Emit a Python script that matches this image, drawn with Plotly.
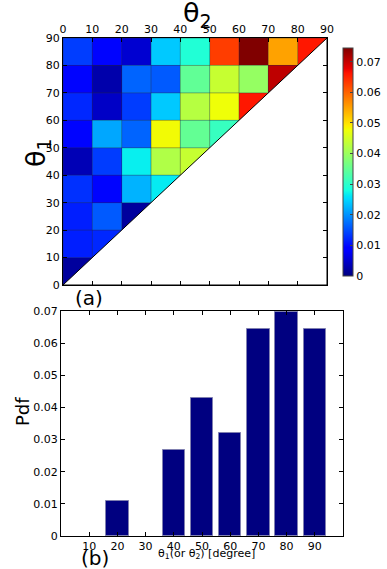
import numpy as np
import plotly.graph_objects as go

# bin edges / centres (degrees)
edges = [0, 10, 20, 30, 40, 50, 60, 70, 80, 90]
centres = [5, 15, 25, 35, 45, 55, 65, 75, 85]

# joint pdf of (theta1, theta2); row = theta1 bin (0-10 first), col = theta2 bin
pdf_rows = [
    [0.0019],
    [0.0115, 0.0122],
    [0.0115, 0.0159, 0.0019],
    [0.0128, 0.0095, 0.0224, 0.0265],
    [0.0035, 0.0137, 0.0268, 0.0420, 0.0440],
    [0.0095, 0.0215, 0.0166, 0.0480, 0.0350, 0.0310],
    [0.0122, 0.0045, 0.0137, 0.0240, 0.0425, 0.0477, 0.0660],
    [0.0095, 0.0028, 0.0166, 0.0159, 0.0348, 0.0440, 0.0395, 0.0705],
    [0.0138, 0.0095, 0.0052, 0.0240, 0.0290, 0.0630, 0.0745, 0.0550, 0.0660],
]

# marginal pdf (panel b)
bar_x = [10, 20, 30, 40, 50, 60, 70, 80, 90]
bar_pdf = [0.0, 0.0108, 0.0, 0.0268, 0.0428, 0.0322, 0.0643, 0.0698, 0.0643]

pdf_ticks = [0, 0.01, 0.02, 0.03, 0.04, 0.05, 0.06, 0.07]
pdf_labels = ["0", "0.01", "0.02", "0.03", "0.04", "0.05", "0.06", "0.07"]


def mpl_jet():
    # matplotlib's jet segment data, sampled at its breakpoints
    red = [(0, 0), (0.35, 0), (0.66, 1), (0.89, 1), (1, 0.5)]
    green = [(0, 0), (0.125, 0), (0.375, 1), (0.64, 1), (0.91, 0), (1, 0)]
    blue = [(0, 0.5), (0.11, 1), (0.34, 1), (0.65, 0), (1, 0)]
    stops = sorted({p for seg in (red, green, blue) for p, _ in seg})
    scale = []
    for s in stops:
        rgb = [np.interp(s, [p for p, _ in seg], [v for _, v in seg]) for seg in (red, green, blue)]
        scale.append([s, "rgb(%d,%d,%d)" % tuple(int(round(255 * c)) for c in rgb)])
    return scale


z = np.full((9, 9), np.nan)
for r, row in enumerate(pdf_rows):
    z[r, :len(row)] = row

font = "DejaVu Sans"
fig = go.Figure()

fig.add_trace(go.Heatmap(
    x=centres, y=centres, z=z, zmin=0, zmax=0.0745,
    colorscale=mpl_jet(), hoverongaps=False,
    colorbar=dict(
        x=333 / 387, xanchor="left", y=1 - 162 / 569, yanchor="middle",
        len=248 / 569, lenmode="fraction", thickness=10,
        tickvals=pdf_ticks, ticktext=pdf_labels, ticks="inside", ticklen=3,
        tickfont=dict(size=11, family=font, color="black"),
        outlinewidth=1, outlinecolor="#444",
    ),
    xaxis="x", yaxis="y",
))

# thin cell edges
gx, gy = [], []
for e in edges:
    gx += [e, e, None, edges[0], edges[-1], None]
    gy += [edges[0], edges[-1], None, e, e, None]
fig.add_trace(go.Scatter(
    x=gx, y=gy, mode="lines", line=dict(color="rgba(40,40,60,0.4)", width=1),
    hoverinfo="skip", showlegend=False, xaxis="x", yaxis="y",
))

# white mask below the diagonal (theta1 < theta2)
fig.add_trace(go.Scatter(
    x=[edges[0], edges[-1], edges[-1], edges[0]],
    y=[edges[0], edges[0], edges[-1], edges[0]],
    fill="toself", fillcolor="white", mode="lines",
    line=dict(color="black", width=1), hoverinfo="skip", showlegend=False,
    xaxis="x", yaxis="y",
))

fig.add_trace(go.Bar(
    x=bar_x, y=bar_pdf, width=8,
    marker=dict(color="#000080",
                line=dict(color="#8080b0", width=[1 if v > 0 else 0 for v in bar_pdf])),
    showlegend=False, xaxis="x2", yaxis="y2",
))

ax_common = dict(showline=True, mirror="ticks", linecolor="black", linewidth=1,
                 ticks="inside", ticklen=4, tickcolor="black", showgrid=False, zeroline=False,
                 automargin=False, layer="above traces",
                 tickfont=dict(size=11, family=font, color="black"))

fig.update_layout(
    width=387, height=569,
    margin=dict(l=0, r=0, t=0, b=0, autoexpand=False),
    paper_bgcolor="white", plot_bgcolor="white",
    xaxis=dict(domain=[63 / 387, 327 / 387], anchor="y", side="top",
               range=[0, 90], tickvals=edges, **ax_common),
    yaxis=dict(domain=[1 - 285 / 569, 1 - 38 / 569], anchor="x",
               range=[0, 90], tickvals=edges, **ax_common),
    xaxis2=dict(domain=[61 / 387, 343 / 387], anchor="y2",
                range=[0, 100], tickvals=bar_x, **ax_common),
    yaxis2=dict(domain=[1 - 536 / 569, 1 - 311 / 569], anchor="x2",
                range=[0, 0.07], tickvals=pdf_ticks, ticktext=pdf_labels, **ax_common),
    bargap=0,
)

ann = [
    dict(text="θ<sub>2</sub>", x=197 / 387, y=1 - 14 / 569, size=27, angle=0),
    dict(text="θ<sub>1</sub>", x=38 / 387, y=1 - 153 / 569, size=27, angle=-90),
    dict(text="(a)", x=89 / 387, y=1 - 298 / 569, size=20, angle=0),
    dict(text="Pdf", x=22 / 387, y=1 - 412 / 569, size=18, angle=-90),
    dict(text="θ<sub>1</sub>(or θ<sub>2</sub>) [degree]", x=206 / 387, y=1 - 554 / 569, size=11, angle=0),
    dict(text="(b)", x=95 / 387, y=1 - 558 / 569, size=20, angle=0),
]
for a in ann:
    fig.add_annotation(text=a["text"], x=a["x"], y=a["y"], xref="paper", yref="paper",
                       xanchor="center", yanchor="middle", showarrow=False, textangle=a["angle"],
                       font=dict(size=a["size"], family=font, color="black"))

fig.write_html("out.html", config={"displayModeBar": False},
               post_script="document.body.style.margin='0px';")
